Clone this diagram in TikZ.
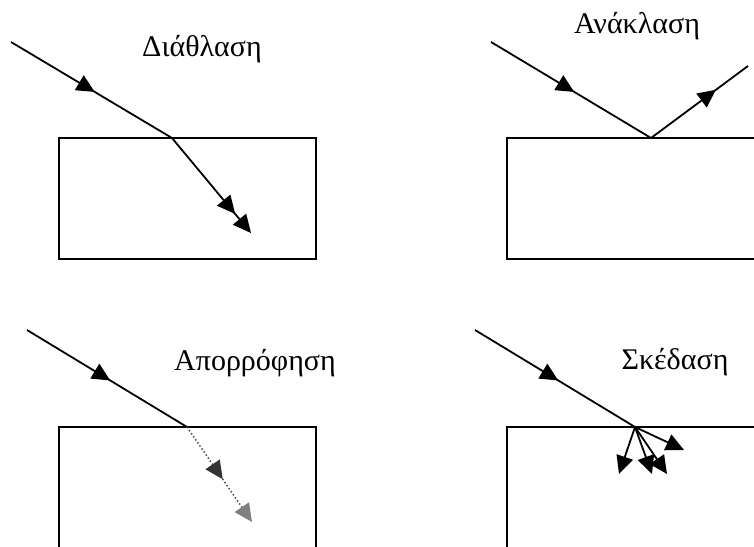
\documentclass[tikz,border=0pt]{standalone}
\usepackage{fontspec}
\setmainfont{Liberation Serif}
\usetikzlibrary{arrows.meta,decorations.markings}

\begin{document}
\begin{tikzpicture}[x=1pt,y=-1pt,
  ray/.style={black, line width=1.8pt},
  endtip/.style={-{Triangle[length=18pt,width=17pt]}},
  midtip/.style={postaction={decorate},
    decoration={markings, mark=at position #1 with {\arrow{Triangle[length=18pt,width=17pt]}}}},
  slab/.style={black, line width=2pt},
  lbl/.style={anchor=base, font=\fontsize{30}{34}\selectfont}]
\clip (0,0) rectangle (754,546);

% Refraction
\draw[slab] (59,138) rectangle (316,259);
\coordinate (ri) at (11,42);
\coordinate (rp) at (172,138);
\coordinate (rt) at (251,233);
\draw[ray, midtip=0.52] (ri) -- (rp);
\draw[ray, endtip, midtip=0.8] (rp) -- (rt);
\node[lbl] (refr) at (202,56) {Διάθλαση};

% Reflection
\draw[slab] (507,138) rectangle (770,259);
\coordinate (fi) at (491,42);
\coordinate (fp) at (651,138);
\coordinate (fo) at (748,66);
\draw[ray, midtip=0.52] (fi) -- (fp);
\draw[ray, midtip=0.67] (fp) -- (fo);
\node[lbl] (refl) at (637,33) {Ανάκλαση};

% Absorption
\draw[slab] (59,427) rectangle (316,560);
\coordinate (ai) at (27,330);
\coordinate (ap) at (187,427);
\coordinate (at2) at (252,522);
\draw[ray, midtip=0.52] (ai) -- (ap);
\draw[black!70, line width=1.5pt, dash pattern=on 1.5pt off 2.2pt,
  -{Triangle[length=18pt,width=17pt,color=black!50]},
  postaction={decorate},
  decoration={markings, mark=at position 0.55 with {\arrow{Triangle[length=18pt,width=17pt,color=black!80]}}}]
  (ap) -- (at2);
\node[lbl] (abs) at (255,370) {Απορρόφηση};

% Scattering
\draw[slab] (507,427) rectangle (770,560);
\coordinate (si) at (475,330);
\coordinate (sp) at (635,427);
\coordinate (s1) at (619,474);
\coordinate (s2) at (652,474);
\coordinate (s3) at (667,474);
\coordinate (s4) at (684,450);
\draw[ray, midtip=0.52] (si) -- (sp);
\foreach \s in {s1,s2,s3,s4}
  \draw[ray, endtip] (sp) -- (\s);
\node[lbl] (scat) at (675,369) {Σκέδαση};
\end{tikzpicture}
\end{document}
